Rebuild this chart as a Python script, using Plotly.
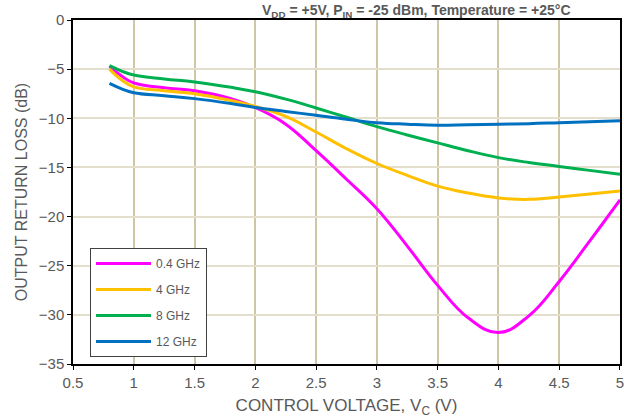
import plotly.graph_objects as go

vc = [0.8, 0.9, 1.0, 1.25, 1.5, 1.8, 2.0, 2.25, 2.5, 2.75, 3.0, 3.25, 3.5, 3.75, 4.0, 4.25, 4.5, 4.75, 5.0]
rl_04 = [-4.7, -5.7, -6.4, -6.9, -7.2, -8.0, -8.9, -10.6, -13.3, -16.2, -19.2, -23.0, -27.0, -30.3, -31.8, -30.1, -26.6, -22.5, -18.3]
rl_4 = [-5.0, -6.1, -6.8, -7.2, -7.5, -8.2, -8.8, -9.8, -11.4, -13.1, -14.6, -15.8, -16.9, -17.6, -18.1, -18.25, -18.0, -17.7, -17.4]
rl_8 = [-4.65, -5.2, -5.6, -6.0, -6.3, -6.85, -7.3, -8.05, -8.95, -9.9, -10.85, -11.7, -12.5, -13.3, -14.0, -14.5, -14.9, -15.3, -15.7]
rl_12 = [-6.45, -7.0, -7.4, -7.7, -8.0, -8.5, -8.9, -9.3, -9.7, -10.1, -10.45, -10.6, -10.7, -10.65, -10.6, -10.55, -10.45, -10.35, -10.25]

series = [
    ("0.4 GHz", rl_04, "#FF00FF"),
    ("4 GHz", rl_4, "#FFC000"),
    ("8 GHz", rl_8, "#00B050"),
    ("12 GHz", rl_12, "#0070C0"),
]

fig = go.Figure()
for i, (name, ys, col) in enumerate(series):
    fig.add_trace(go.Scatter(x=vc, y=ys, name=name, mode="lines", legendgroup=str(i),
                             line=dict(color=col, width=3, shape="spline", smoothing=1.2)))

font_col = "#595959"
fig.update_layout(
    width=624, height=418,
    margin=dict(l=73, r=4, t=20, b=54, autoexpand=False),
    plot_bgcolor="white", paper_bgcolor="white",
    font=dict(family="Liberation Sans, Arial, sans-serif", size=12, color=font_col),
    showlegend=True,
    legend=dict(x=(90 - 73) / 547, y=(364 - 357) / 344, xanchor="left", yanchor="bottom",
                bgcolor="white", bordercolor="#404040", borderwidth=1,
                font=dict(size=12, color=font_col), traceorder="grouped",
                tracegroupgap=7, itemwidth=55),
    annotations=[dict(text="<b>V<sub>DD</sub> = +5V, P<sub>IN</sub> = -25 dBm, Temperature = +25°C</b>",
                      x=(416 - 73) / 547, xref="paper", y=1 + 20 / 344, yref="paper", showarrow=False,
                      font=dict(size=14, color=font_col), xanchor="center", yanchor="top")],
)

fig.update_xaxes(range=[0.5, 5.0001], dtick=0.5, tick0=0.5, automargin=False,
                 ticklabeloverflow="allow",
                 showgrid=True, gridcolor="#CFC6A6", gridwidth=1.5,
                 showline=True, linecolor="black", linewidth=1.5, mirror=True,
                 ticks="outside", ticklen=4, tickcolor="black",
                 tickfont=dict(size=15, color=font_col),
                 title=dict(text="CONTROL VOLTAGE, V<sub>C</sub> (V)", font=dict(size=17, color=font_col), standoff=12),
                 zeroline=False)
fig.update_yaxes(range=[-35, 0], dtick=5, automargin=False,
                 showgrid=True, gridcolor="#E3DFCC", gridwidth=1.5,
                 showline=True, linecolor="black", linewidth=1.5, mirror=True,
                 ticks="outside", ticklen=4, tickcolor="black",
                 tickfont=dict(size=15, color=font_col),
                 title=dict(text="OUTPUT RETURN LOSS (dB)", font=dict(size=16, color=font_col), standoff=7),
                 zeroline=False)

fig.write_html("out.html", config={"displayModeBar": False},
               post_script="document.body.style.margin='0';document.body.style.overflow='hidden';")
